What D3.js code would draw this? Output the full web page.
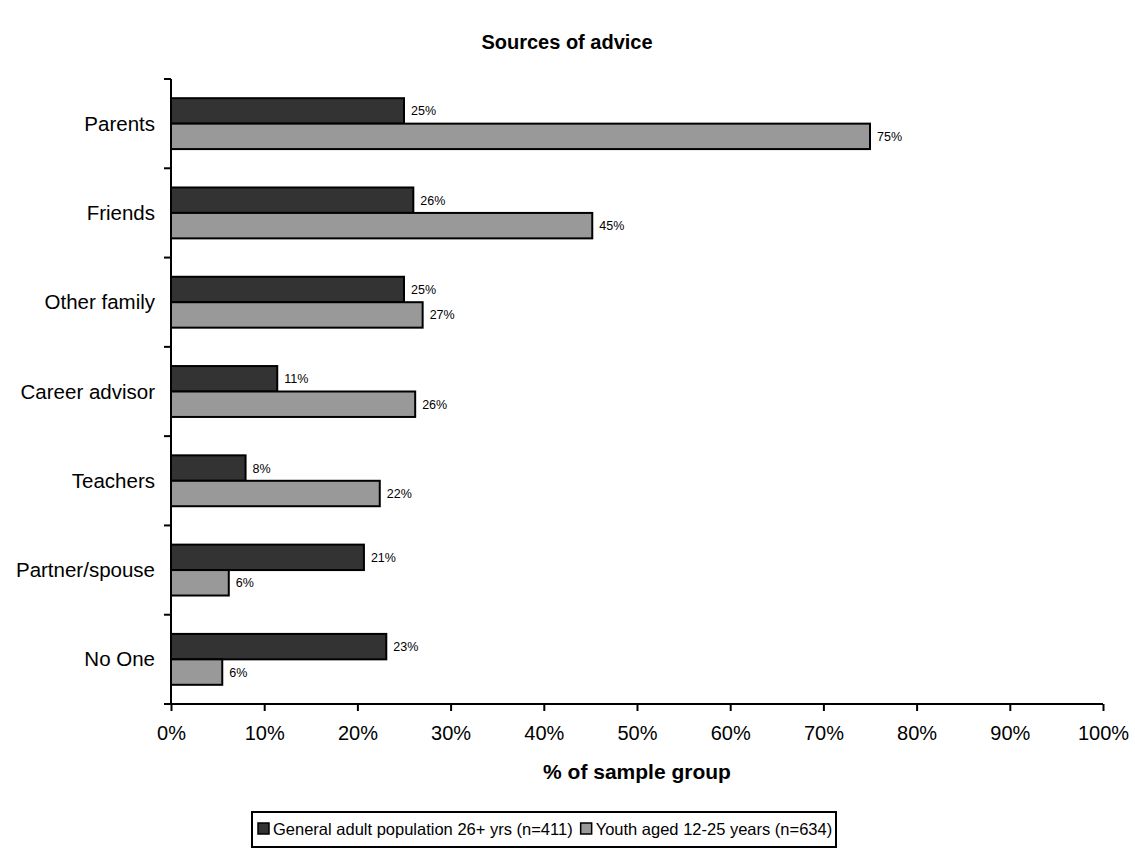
<!DOCTYPE html>
<html><head><meta charset="utf-8">
<script src="https://cdn.jsdelivr.net/npm/d3@7"></script>
<style>body{margin:0;background:#fff}svg{display:block;font-family:"Liberation Sans",Arial,sans-serif}</style>
</head><body>
<svg id="c" width="1135" height="848"></svg>
<script>
const categories = ["Parents","Friends","Other family","Career advisor","Teachers","Partner/spouse","No One"];
const seriesNames = ["General adult population 26+ yrs (n=411)","Youth aged 12-25 years (n=634)"];
const adultValues = [25,26,25,11.4,8,20.7,23.1];
const youthValues = [75,45.2,27,26.2,22.4,6.2,5.5];
const adultLabels = ["25%","26%","25%","11%","8%","21%","23%"];
const youthLabels = ["75%","45%","27%","26%","22%","6%","6%"];
const xTicks = [0,10,20,30,40,50,60,70,80,90,100];
const colors = ["#333333","#999999"];

const svg = d3.select("#c");
const L = 171, R = 1103, T = 79, B = 704;
const x = d3.scaleLinear().domain([0,100]).range([L,R]);
const y = d3.scaleBand().domain(categories).range([T,B]).paddingInner(0.43).paddingOuter(0.215);
const sub = d3.scaleBand().domain([0,1]).range([0,y.bandwidth()]);

svg.append("text").attr("x",567).attr("y",49).attr("text-anchor","middle")
  .attr("font-weight","bold").attr("font-size",20).text("Sources of advice");

const series = [adultValues,youthValues];
const labels = [adultLabels,youthLabels];
categories.forEach((c,i)=>{
  series.forEach((vals,s)=>{
    const y0 = y(c)+sub(s);
    svg.append("rect").attr("x",x(0)).attr("y",y0).attr("width",x(vals[i])-x(0)).attr("height",sub.bandwidth())
      .attr("fill",colors[s]).attr("stroke","#000").attr("stroke-width",2);
    svg.append("text").attr("x",x(vals[i])+7).attr("y",y0+sub.bandwidth()/2+4.5)
      .attr("font-size",12.5).text(labels[s][i]);
  });
});

// y axis
svg.append("line").attr("x1",L).attr("x2",L).attr("y1",T).attr("y2",B).attr("stroke","#000").attr("stroke-width",2);
const step = (B-T)/categories.length;
d3.range(categories.length+1).forEach(k=>{
  svg.append("line").attr("x1",L-7).attr("x2",L).attr("y1",T+k*step).attr("y2",T+k*step).attr("stroke","#000").attr("stroke-width",2);
});
categories.forEach(c=>{
  svg.append("text").attr("x",155).attr("y",y(c)+y.bandwidth()/2+7).attr("text-anchor","end")
    .attr("font-size",20.5).text(c);
});

// x axis
const xAxis = d3.axisBottom(x).tickValues(xTicks).tickFormat(d=>d+"%").tickSize(7).tickSizeOuter(0);
const gx = svg.append("g").attr("transform",`translate(0,${B})`).call(xAxis);
gx.select(".domain").attr("stroke","#000").attr("stroke-width",2).attr("d",`M${L-7},0H${R}`);
gx.selectAll(".tick line").attr("stroke","#000").attr("stroke-width",2);
gx.selectAll(".tick text").attr("font-size",20).attr("font-family","Liberation Sans, Arial, sans-serif").attr("fill","#000").attr("y",36).attr("dy",0);

svg.append("text").attr("x",(L+R)/2).attr("y",779).attr("text-anchor","middle")
  .attr("font-weight","bold").attr("font-size",21).text("% of sample group");

// legend
const lg = svg.append("g");
lg.append("rect").attr("x",252).attr("y",812).attr("width",584).attr("height",35).attr("fill","#fff").attr("stroke","#000").attr("stroke-width",2);
let cx = 258;
seriesNames.forEach((n,s)=>{
  lg.append("rect").attr("x",cx).attr("y",823).attr("width",11).attr("height",11).attr("fill",colors[s]).attr("stroke","#000").attr("stroke-width",1.5);
  const t = lg.append("text").attr("x",cx+15).attr("y",835).attr("font-size",16.5).text(n);
  cx += 15 + t.node().getComputedTextLength() + 8;
});
</script>
</body></html>
